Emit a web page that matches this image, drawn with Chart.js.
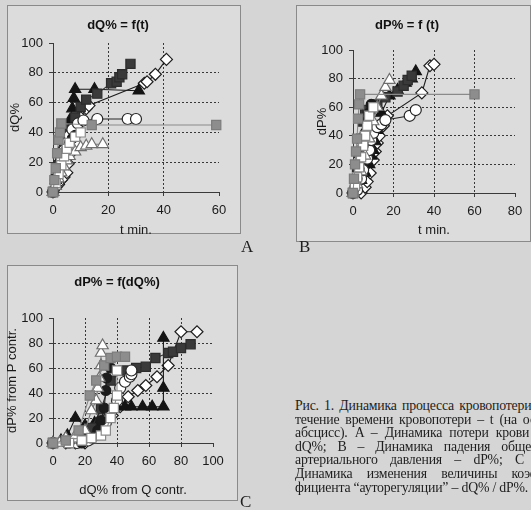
<!DOCTYPE html>
<html>
<head>
<meta charset="utf-8">
<script src="https://cdn.jsdelivr.net/npm/chart.js@4.4.0/dist/chart.umd.min.js"></script>
<style>
  html, body { margin: 0; padding: 0; }
  body {
    width: 531px; height: 510px; overflow: hidden; position: relative;
    background: #d5d5d5;
    font-family: "Liberation Serif", "Times New Roman", serif;
    color: #1e1e1e;
  }
  .panel { position: absolute; border: 1px solid #8a8a8a; background: #dcdcdc; }
  canvas { position: absolute; }
  .lbl { position: absolute; font-size: 17px; line-height: 18px; }
  .cap { position: absolute; left: 295px; width: 248px; font-size: 13.8px; line-height: 13.6px;
         letter-spacing: -0.2px; white-space: nowrap; text-align: justify; text-align-last: justify; }
  .cap.last { text-align-last: left; }
</style>
</head>
<body>
<div class="panel" style="left:7px;top:5px;width:232px;height:227px"></div>
<div class="panel" style="left:296px;top:5px;width:233px;height:235px"></div>
<div class="panel" style="left:7px;top:265px;width:229px;height:234px"></div>

<canvas id="chartA" width="260" height="250" style="left:0;top:0"></canvas>
<canvas id="chartB" width="251" height="250" style="left:280px;top:0"></canvas>
<canvas id="chartC" width="260" height="250" style="left:0;top:260px"></canvas>

<div class="lbl" style="left:241px;top:238px">A</div>
<div class="lbl" style="left:299px;top:238px">B</div>
<div class="lbl" style="left:240px;top:493px">C</div>

<div class="cap" style="top:399px">Рис. 1. Динамика процесса кровопотери в</div>
<div class="cap" style="top:412.6px">течение времени кровопотери – t (на оси</div>
<div class="cap" style="top:426.2px">абсцисс). A – Динамика потери крови –</div>
<div class="cap" style="top:439.8px">dQ%; B – Динамика падения общего</div>
<div class="cap" style="top:453.4px">артериального давления – dP%; C –</div>
<div class="cap" style="top:467px">Динамика изменения величины коэф-</div>
<div class="cap last" style="top:480.6px">фициента “ауторегуляции” – dQ% / dP%.</div>

<script>
// A: dQ% vs t (min)
const aGreySq = [[0,0],[0.5,8],[1,16],[1.5,26],[2,35],[2.5,40],[3,46],[14,45],[59,45]];
const aOpenSq = [[0,0],[1,6],[2,12],[3,18],[4,24],[5,29],[6,33],[8,37],[10,40]];
const aOpenTri = [[0,0],[1,4],[2,9],[3,13],[4,17],[5,21],[6,24],[8,27],[10,30],[12,31],[14,32],[18,32]];
const aDotFill = [[0,0],[1,6],[2,12],[3,18],[4,24],[5,29],[6,33],[7,36],[8,38]];
const aCircle = [[0,0],[1,8],[2,15],[3,22],[4,28],[5,33],[6,38],[7,42],[9,46],[11,48],[16,49],[27,49],[30,49]];
const aDarkSq = [[0,0],[1,9],[2,18],[3,26],[4,32],[5,37],[6,42],[8,50],[10,57],[12,62],[16,66],[21,73],[23,74],[24,77],[25,79],[28,86]];
const aTriFill = [[0,0],[1,8],[2,16],[3,24],[4,32],[5,40],[6,48],[7,56],[7.5,63],[8,69],[15,69],[31,68]];
const aDiamond = [[0,0],[1,3],[2,5],[3,8],[4,10],[5,13],[5.5,19],[7,27],[8,33],[9,42],[10,50],[12,56],[13,58],[33,73],[34,74],[37,79],[41,89]];

// B: dP% vs t (min)
const bGreySq = [[0,0],[0.5,10],[1,20],[1.5,29],[2,38],[2.5,52],[3,62],[3.5,69],[60,69]];
const bOpenSq = [[0,0],[1,5],[2,11],[3,18],[4,25],[5,33],[6,40],[7,47],[8,54],[10,60]];
const bOpenTri = [[0,0],[2,6],[4,15],[6,26],[8,38],[10,50],[12,60],[14,68],[16,74],[18,79]];
const bDotFill = [[0,0],[1,4],[2,10],[3,17],[4,25],[5,33],[6,42],[7,50],[8,56],[9,62]];
const bCircle = [[0,0],[2,2],[4,10],[5,16],[7,24],[8,30],[9,37],[10,42],[12,46],[14,48],[16,51],[28,54],[31,58]];
const bDarkSq = [[0,0],[1,8],[2,18],[3,28],[4,38],[5,50],[6,55],[7,58],[9,60],[12,62],[16,67],[22,71],[25,75],[27,79],[29,82]];
const bTriFill = [[0,0],[2,4],[4,9],[6,14],[8,20],[9,26],[10,30],[11,36],[12,44],[14,56],[18,68],[22,72],[26,77],[29,80],[31,85]];
const bDiamond = [[0,0],[4,0],[6,4],[7,8],[8.5,14],[10,23],[11,29],[12,35],[13,40],[15,47],[17,54],[34,70],[38,89],[40,90]];

// C: dP% vs dQ%
const cGreySq = [[0,0],[8,2],[16,10],[23,38],[27,50],[32,62],[36,68],[40,69],[45,69]];
const cOpenSq = [[0,0],[10,0],[18,2],[24,4],[30,6],[33,10],[36,20],[38,28],[40,38],[40,58]];
const cOpenTri = [[0,0],[4,0],[8,4],[14,6],[20,10],[24,26],[27,34],[28,44],[29,52],[30,62],[30,72],[31,78]];
const cDotFill = [[0,0],[10,0],[18,0],[24,4],[28,10],[30,18],[32,28],[33,42],[33.5,52],[34.5,62],[36,60]];
const cCircle = [[0,0],[15,0],[22,2],[28,8],[33,16],[36,24],[40,34],[42,44],[45,49],[48,53],[49,55],[49,58]];
const cDarkSq = [[0,0],[10,0],[18,4],[24,12],[30,27],[36,50],[44,58],[52,60],[58,61],[64,68],[72,72],[75,73],[80,76],[86,79]];
const cTriFill = [[0,0],[5,2],[9,6],[14,20],[20,14],[26,16],[30,27],[40,29],[45,29],[49,29],[56,29],[62,29],[69,29],[69,44],[69,84]];
const cDiamond = [[0,0],[8,0],[14,0],[20,0],[25,4],[29,12],[32,18],[37,22],[42,29],[47,37],[53,42],[58,46],[65,53],[72,62],[80,89],[90,89]];

const tickSteps = [0, 20, 40, 60, 80, 100];

// marker look, in drawing order (last on top)
const looks = [
  { style: 'rect',     r: 6.5, fill: '#8d8d8d', edge: '#7c7c7c', line: '#8a8a8a' },
  { style: 'rect',     r: 6.5, fill: '#ffffff', edge: '#8a8a8a', line: '#8a8a8a' },
  { style: 'triangle', r: 6.5, fill: '#ffffff', edge: '#6e6e6e', line: '#7a7a7a' },
  { style: 'circle',   r: 5,   fill: '#1c1c1c', edge: '#1c1c1c', line: '#222222' },
  { style: 'circle',   r: 5.5, fill: '#ffffff', edge: '#262626', line: '#262626' },
  { style: 'rect',     r: 6.5, fill: '#3a3a3a', edge: '#2c2c2c', line: '#333333' },
  { style: 'triangle', r: 6.5, fill: '#141414', edge: '#141414', line: '#1a1a1a' },
  { style: 'rectRot',  r: 6,   fill: '#ffffff', edge: '#1e1e1e', line: '#1e1e1e' }
];

function buildSets(series) {
  return series.map((pts, i) => {
    const lk = looks[i];
    return {
      data: pts.map(p => ({ x: p[0], y: p[1] })),
      showLine: true,
      borderColor: lk.line,
      borderWidth: 1.1,
      pointStyle: lk.style,
      pointRadius: lk.r,
      pointBackgroundColor: lk.fill,
      pointBorderColor: lk.edge,
      pointBorderWidth: 1.2,
      clip: false
    };
  });
}

const tickFont = { family: "'Liberation Sans', Arial, sans-serif", size: 13 };

function axis(max, titleText, titlePad, fitSize, horizontal) {
  return {
    type: 'linear',
    min: 0,
    max: max,
    afterBuildTicks: (s) => { s.ticks = tickSteps.filter(v => v <= max).map(v => ({ value: v })); },
    ticks: { color: '#1a1a1a', font: tickFont, padding: horizontal ? 7 : 6, maxRotation: 0, autoSkip: false },
    grid: {
      color: (c) => (c.tick && (c.tick.value === 0 || c.tick.value === max)) ? 'rgba(0,0,0,0)' : '#383838',
      lineWidth: 1,
      tickLength: 4,
      tickColor: '#3a3a3a',
      tickBorderDash: []
    },
    border: { display: true, color: '#3a3a3a', width: 1, dash: [2, 2] },
    title: { display: true, text: titleText, color: '#1a1a1a', font: tickFont, padding: titlePad },
    afterFit: (s) => { if (horizontal) s.height = fitSize; else s.width = fitSize; }
  };
}

function makeChart(id, series, o) {
  return new Chart(document.getElementById(id), {
    type: 'scatter',
    data: { datasets: buildSets(series) },
    options: {
      responsive: false,
      animation: false,
      events: [],
      layout: { padding: o.pad },
      plugins: {
        legend: { display: false },
        tooltip: { enabled: false },
        title: {
          display: true,
          text: o.title,
          color: '#111',
          font: { family: "'Liberation Sans', Arial, sans-serif", size: 13, weight: 'bold' },
          padding: o.titlePad
        }
      },
      scales: {
        x: axis(o.xMax, o.xTitle, { top: 0, bottom: 2 }, o.xH, true),
        y: axis(100, o.yTitle, { top: o.yTitleOff, bottom: 0 }, o.yW, false)
      }
    }
  });
}

makeChart('chartA', [aGreySq, aOpenSq, aOpenTri, aDotFill, aCircle, aDarkSq, aTriFill, aDiamond], {
  title: 'dQ% = f(t)', xTitle: 't min.', yTitle: 'dQ%', xMax: 60,
  pad: { left: 17, right: 41, top: 0, bottom: 10.2 },
  titlePad: { top: 17.2, bottom: 10.2 },
  yW: 36, yTitleOff: -9.8, xH: 47.8
});

makeChart('chartB', [bGreySq, bOpenSq, bOpenTri, bDotFill, bCircle, bDarkSq, bTriFill, bDiamond], {
  title: 'dP% = f (t)', xTitle: 't min.', yTitle: 'dP%', xMax: 80,
  pad: { left: 19, right: 16, top: 0, bottom: 10.2 },
  titlePad: { top: 17.2, bottom: 17.2 },
  yW: 54, yTitleOff: 15.2, xH: 46.8
});

makeChart('chartC', [cGreySq, cOpenSq, cOpenTri, cDotFill, cCircle, cDarkSq, cTriFill, cDiamond], {
  title: 'dP% = f(dQ%)', xTitle: 'dQ% from Q contr.', yTitle: 'dP% from P contr.', xMax: 100,
  pad: { left: 21, right: 47, top: 0, bottom: 10.2 },
  titlePad: { top: 14.2, bottom: 28.2 },
  yW: 32, yTitleOff: -16.8, xH: 56.8
});
</script>
</body>
</html>
